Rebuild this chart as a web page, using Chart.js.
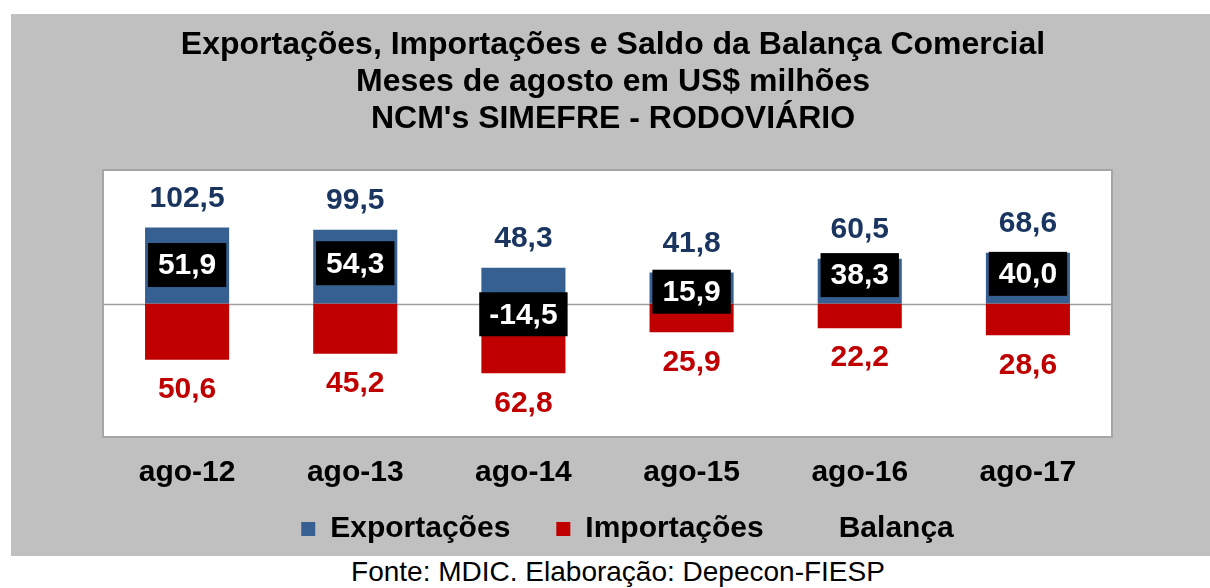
<!DOCTYPE html>
<html>
<head>
<meta charset="utf-8">
<script src="https://cdn.jsdelivr.net/npm/chart.js@4/dist/chart.umd.min.js"></script>
<style>
  html, body { margin: 0; padding: 0; background: #ffffff; width: 1210px; height: 588px; overflow: hidden; }
  #panel { position: absolute; left: 11px; top: 14px; width: 1199px; height: 542px; background: #c0c0c0; }
  #panel canvas { display: block; }
  #fonte { position: absolute; left: 0; top: 556px; width: 1236px; height: 32px; line-height: 32px;
           text-align: center; font-family: "Liberation Sans", Arial, sans-serif; font-size: 28px; color: #000; }
</style>
</head>
<body>
<div id="panel"><canvas id="c" width="1199" height="542"></canvas></div>
<div id="fonte">Fonte: MDIC. Elaboração: Depecon-FIESP</div>
<script>
const categories = ['ago-12', 'ago-13', 'ago-14', 'ago-15', 'ago-16', 'ago-17'];
const exportacoes = [102.5, 99.5, 48.3, 41.8, 60.5, 68.6];
const importacoes = [50.6, 45.2, 62.8, 25.9, 22.2, 28.6];
const balanca = [51.9, 54.3, -14.5, 15.9, 38.3, 40.0];
const titleLines = ['Exportações, Importações e Saldo da Balança Comercial', 'Meses de agosto em US$ milhões', "NCM's SIMEFRE - RODOVIÁRIO"];

const FONT = '"Liberation Sans", Arial, sans-serif';
const fmt = v => Math.abs(v).toFixed(1).replace('.', ',');
const fmtSigned = v => v.toFixed(1).replace('.', ',');

const LEGEND_PAD = 46;
const LEGEND_FONT = 30;
const LEGEND_TEXT_CENTER = 515;

const plotPlugin = {
  id: 'plotDecor',
  afterLayout(chart) {
    const L = chart.legend;
    if (L) {
      L.top = LEGEND_TEXT_CENTER - LEGEND_PAD - LEGEND_FONT / 2;
      L.height = LEGEND_FONT + LEGEND_PAD + 20;
      L.bottom = L.top + L.height;
      L.left += 20; L.right += 20;
    }
    const T = chart.titleBlock;
    if (T) { T.left += 5.5; T.right += 5.5; }
  },
  beforeDatasetsDraw(chart) {
    const {ctx, chartArea: a} = chart;
    ctx.save();
    ctx.fillStyle = '#ffffff';
    ctx.fillRect(a.left, a.top, a.right - a.left, a.bottom - a.top);
    const y0 = Math.round(chart.scales.y.getPixelForValue(0)) + 0.5;
    ctx.strokeStyle = '#a0a0a0';
    ctx.lineWidth = 1.5;
    ctx.beginPath();
    ctx.moveTo(a.left, y0);
    ctx.lineTo(a.right, y0);
    ctx.stroke();
    ctx.restore();
  },
  afterDatasetsDraw(chart) {
    const {ctx, chartArea: a} = chart;
    ctx.save();
    ctx.strokeStyle = '#a6a6a6';
    ctx.lineWidth = 2;
    ctx.strokeRect(a.left, a.top, a.right - a.left, a.bottom - a.top);

    ctx.font = 'bold 30px ' + FONT;
    ctx.textAlign = 'center';
    ctx.textBaseline = 'middle';

    const expMeta = chart.getDatasetMeta(0);
    const impMeta = chart.getDatasetMeta(1);
    const balMeta = chart.getDatasetMeta(2);

    expMeta.data.forEach((el, i) => {
      ctx.fillStyle = '#1a3660';
      ctx.fillText(fmt(exportacoes[i]), el.x, el.y - 29);
    });
    impMeta.data.forEach((el, i) => {
      ctx.fillStyle = '#c00000';
      ctx.fillText(fmt(importacoes[i]), el.x, el.y + 30);
    });
    balMeta.data.forEach((el, i) => {
      const txt = fmtSigned(balanca[i]);
      const w = ctx.measureText(txt).width + 20;
      const h = 44;
      ctx.fillStyle = '#000000';
      ctx.fillRect(el.x - w / 2, el.y - h / 2, w, h);
      ctx.fillStyle = '#ffffff';
      ctx.fillText(txt, el.x, el.y + 1);
    });
    ctx.restore();
  }
};

new Chart(document.getElementById('c'), {
  data: {
    labels: categories,
    datasets: [
      {
        type: 'bar', label: 'Exportações', data: exportacoes, yAxisID: 'y',
        backgroundColor: '#376092', borderWidth: 0, grouped: false,
        categoryPercentage: 0.5, barPercentage: 1.0
      },
      {
        type: 'bar', label: 'Importações', data: importacoes.map(v => -v), yAxisID: 'y2',
        backgroundColor: '#c00000', borderWidth: 0, grouped: false,
        categoryPercentage: 0.5, barPercentage: 1.0
      },
      {
        type: 'line', label: 'Balança', data: balanca, yAxisID: 'y',
        showLine: false, pointRadius: 0, borderWidth: 0,
        backgroundColor: 'rgba(0,0,0,0)', borderColor: 'rgba(0,0,0,0)'
      }
    ]
  },
  options: {
    responsive: false,
    animation: false,
    devicePixelRatio: 1,
    events: [],
    layout: { padding: { left: 92, right: 98, top: 0, bottom: 0 } },
    scales: {
      x: {
        grid: { display: false, drawTicks: false },
        border: { display: false },
        ticks: { color: '#000', font: { family: FONT, size: 30, weight: 'bold', lineHeight: 1.0 }, padding: 21, maxRotation: 0, autoSkip: false }
      },
      y: { display: false, min: -180, max: 180 },
      y2: { display: false, min: -120, max: 120 }
    },
    plugins: {
      tooltip: { enabled: false },
      title: {
        display: true,
        text: titleLines,
        color: '#000',
        font: { family: FONT, size: 32, weight: 'bold', lineHeight: 1.144 },
        padding: { top: 13.2, bottom: 33 }
      },
      legend: {
        display: true,
        position: 'bottom',
        maxHeight: 47,
        labels: {
          color: '#000',
          font: { family: FONT, size: LEGEND_FONT, weight: 'bold' },
          boxWidth: 14, boxHeight: 14, padding: LEGEND_PAD
        }
      }
    }
  },
  plugins: [plotPlugin]
});
</script>
</body>
</html>
